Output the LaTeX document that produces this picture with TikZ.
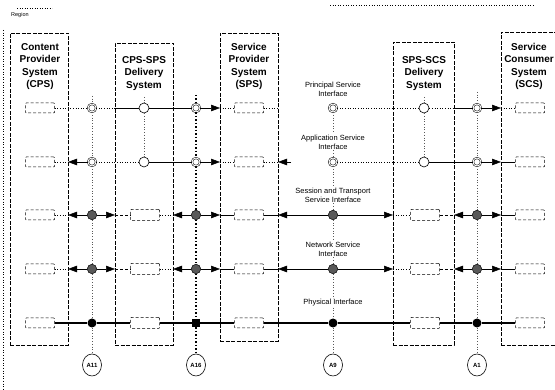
\documentclass[tikz,border=0pt]{standalone}
\usepackage{fontspec}
\setmainfont{Liberation Sans}
\usetikzlibrary{arrows.meta,shapes.geometric,calc}
\begin{document}
\begin{tikzpicture}[x=1pt,y=-1pt,
 sysbox/.style={draw, dash pattern=on 4pt off 1.5pt, line width=0.6pt, inner sep=0pt, outer sep=0pt},
 inbox/.style={draw, densely dashed, line width=0.5pt, rounded corners=0.8pt, minimum width=29pt, minimum height=10pt, inner sep=0pt, fill=white},
 dcirc/.style={circle, draw, double, double distance=1pt, line width=0.5pt, minimum size=8pt, inner sep=0pt, fill=white},
 ocirc/.style={circle, draw, line width=0.6pt, minimum size=10pt, inner sep=0pt, fill=white},
 gcirc/.style={circle, draw, fill=black!65, line width=0.5pt, minimum size=9.5pt, inner sep=0pt},
 bcirc/.style={circle, fill=black, minimum size=9pt, inner sep=0pt},
 bsq/.style={rectangle, fill=black, minimum size=8pt, inner sep=0pt},
 arr/.style={-{Triangle[length=9pt,width=6.5pt]}, line width=0.5pt},
 conn/.style={line width=0.5pt},
 dconn/.style={dotted, line width=0.6pt},
 dsconn/.style={densely dashed, line width=0.5pt},
 vline/.style={dotted, line width=0.7pt, black!65},
 vlineh/.style={dash pattern=on 1.5pt off 2pt, line width=1.2pt},
 title/.style={font=\fontsize{10}{12.5}\selectfont\bfseries, align=center, inner sep=0pt},
 lab/.style={font=\fontsize{7.5}{9}\selectfont, align=center, inner sep=1pt},
 apt/.style={ellipse, draw, line width=0.6pt, minimum width=19pt, minimum height=22pt, inner sep=0pt, font=\fontsize{6}{7}\selectfont\bfseries},
]
\useasboundingbox (0,0) rectangle (555,390);
\clip (0,0) rectangle (555,390);

% region
\draw[dotted, line width=0.6pt] (3,30) -- (3,390);
\draw[dotted, line width=0.6pt] (330,5) -- (535,5);
\draw[dotted, line width=0.5pt] (17,8) -- (52,8);
\node[font=\fontsize{5.5}{6}\selectfont, anchor=west, inner sep=0pt] (reg) at (11,15) {Region};

% system boxes
\node[sysbox, anchor=north west, minimum width=58pt, minimum height=312pt] (cps) at (10,33) {};
\node[sysbox, anchor=north west, minimum width=58pt, minimum height=302pt] (del1) at (115,43) {};
\node[sysbox, anchor=north west, minimum width=58pt, minimum height=308pt] (sps) at (220,33) {};
\node[sysbox, anchor=north west, minimum width=61pt, minimum height=303pt] (del2) at (393,42) {};
\node[sysbox, anchor=north west, minimum width=70pt, minimum height=313pt] (scs) at (501,32) {};

% titles
\node[title, anchor=north] (tcps) at (40,43) {Content\\Provider\\System\\(CPS)};
\node[title, anchor=north] (tdel1) at (144,56) {CPS-SPS\\Delivery\\System};
\node[title, anchor=north] (tsps) at (249,43) {Service\\Provider\\System\\(SPS)};
\node[title, anchor=north] (tdel2) at (424,56) {SPS-SCS\\Delivery\\System};
\node[title, anchor=north] (tscs) at (529,43) {Service\\Consumer\\System\\(SCS)};

% interface labels
\node[lab] (lab1) at (333,89) {Principal Service\\Interface};
\node[lab] (lab2) at (333,142) {Application Service\\Interface};
\node[lab] (lab3) at (333,195) {Session and Transport\\Service Interface};
\node[lab] (lab4) at (333,249) {Network Service\\Interface};
\node[lab] (lab5) at (333,303) {Physical Interface};

% inner boxes
\foreach \r/\y in {1/108,2/162,3/215,4/269,5/323}{
  \node[inbox] (cpsb\r) at (40,\y) {};
  \node[inbox] (spsb\r) at (249,\y) {};
  \node[inbox] (scsb\r) at (530,\y) {};
}
\foreach \r/\y in {3/215,4/269,5/323}{
  \node[inbox, minimum height=11pt] (dlb\r) at (145,\y) {};
  \node[inbox, minimum height=11pt] (drb\r) at (425,\y) {};
}

% interface points
\foreach \r/\y in {1/108,2/162}{
  \node[dcirc] (aA\r) at (92,\y) {};
  \node[dcirc] (aB\r) at (196,\y) {};
  \node[dcirc] (aC\r) at (333,\y) {};
  \node[dcirc] (aD\r) at (477,\y) {};
  \node[ocirc] (o1r\r) at (144,\y) {};
  \node[ocirc] (o2r\r) at (424,\y) {};
}
\foreach \r/\y in {3/215,4/269}{
  \node[gcirc] (aA\r) at (92,\y) {};
  \node[gcirc] (aB\r) at (196,\y) {};
  \node[gcirc] (aC\r) at (333,\y) {};
  \node[gcirc] (aD\r) at (477,\y) {};
}
\node[bcirc] (aA5) at (92,323) {};
\node[bsq] (aB5) at (196,323) {};
\node[bcirc] (aC5) at (333,323) {};
\node[bcirc] (aD5) at (477,323) {};

% reference points
\node[apt] (A11) at (92,365) {A11};
\node[apt] (A16) at (196,365) {A16};
\node[apt] (A9) at (333,365) {A9};
\node[apt] (A1) at (477,365) {A1};

% vertical lines
\coordinate (tA) at (92,96);
\coordinate (tB) at (196,95);
\coordinate (tD) at (477,92);
\coordinate (tO1) at (144,97);
\coordinate (tO2) at (424,97);
\draw[vline] (tA) -- (aA1) -- (aA2) -- (aA3) -- (aA4) -- (aA5) -- (A11);
\draw[vlineh] (tB) -- (aB1) -- (aB2) -- (aB3) -- (aB4) -- (aB5) -- (A16);
\draw[vline] (aC1) -- (lab2) -- (aC2) -- (lab3) -- (aC3) -- (lab4) -- (aC4) -- (lab5) -- (aC5) -- (A9);
\draw[vline] (tD) -- (aD1) -- (aD2) -- (aD3) -- (aD4) -- (aD5) -- (A1);
\draw[vline] (tO1) -- (o1r1) -- (o1r2);
\draw[vline] (tO2) -- (o2r1) -- (o2r2);

% row 1
\draw[dconn] (cpsb1) -- (aA1);
\draw[dconn] (aA1) -- (aA1 -| del1.west);
\draw[conn] (aA1 -| del1.west) -- (o1r1);
\draw[conn] (o1r1) -- (aB1);
\draw[arr] (aB1) -- (aB1 -| sps.west);
\draw[dconn] (aB1 -| sps.west) -- (spsb1);
\draw[dconn] (spsb1) -- (spsb1 -| sps.east);
\draw[dconn] (aC1) -- (o2r1);
\draw[dconn] (o2r1) -- (aD1 -| del2.east);
\draw[conn] (aD1 -| del2.east) -- (aD1);
\draw[arr] (aD1) -- (aD1 -| scs.west);
\draw[dconn] (aD1 -| scs.west) -- (scsb1);

% row 2
\draw[dconn] (cpsb2) -- (cpsb2 -| cps.east);
\draw[arr] (aA2) -- (aA2 -| cps.east);
\draw[dconn] (aA2) -- (o1r2);
\draw[conn] (o1r2) -- (aB2);
\draw[arr] (aB2) -- (aB2 -| sps.west);
\draw[dconn] (aB2 -| sps.west) -- (spsb2);
\draw[dconn] (spsb2) -- (spsb2 -| sps.east);
\coordinate (t2) at (291,162);
\draw[arr] (t2) -- (t2 -| sps.east);
\draw[dconn] (aC2) -- (o2r2);
\draw[conn] (o2r2) -- (aD2);
\draw[arr] (aD2) -- (aD2 -| scs.west);
\draw[conn] (aD2 -| scs.west) -- (scsb2);

% rows 3 and 4
\foreach \r in {3,4}{
  \draw[dconn] (cpsb\r) -- (cpsb\r -| cps.east);
  \draw[arr] (aA\r) -- (aA\r -| cps.east);
  \draw[arr] (aA\r) -- (aA\r -| del1.west);
  \draw[dsconn] (aA\r -| del1.west) -- (dlb\r);
  \draw[dconn] (dlb\r) -- (dlb\r -| del1.east);
  \draw[arr] (aB\r) -- (aB\r -| del1.east);
  \draw[arr] (aB\r) -- (aB\r -| sps.west);
  \draw[conn] (aB\r -| sps.west) -- (spsb\r);
  \draw[conn] (spsb\r) -- (spsb\r -| sps.east);
  \draw[arr] (aC\r) -- (aC\r -| sps.east);
  \draw[arr] (aC\r) -- (aC\r -| del2.west);
  \draw[dconn] (aC\r -| del2.west) -- (drb\r);
  \draw[dsconn] (drb\r) -- (drb\r -| del2.east);
  \draw[arr] (aD\r) -- (aD\r -| del2.east);
  \draw[arr] (aD\r) -- (aD\r -| scs.west);
  \draw[conn] (aD\r -| scs.west) -- (scsb\r);
}

% row 5
\draw[line width=2.8pt] (cpsb5) -- (aA5) -- (dlb5) -- (aB5) -- (spsb5) -- (aC5) -- (drb5) -- (aD5) -- (scsb5);
\end{tikzpicture}
\end{document}
